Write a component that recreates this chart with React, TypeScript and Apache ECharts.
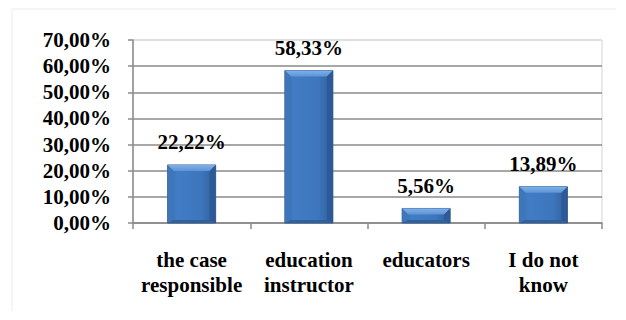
import React, { useEffect, useRef } from "react";
import * as echarts from "echarts";

const categories = ["the case\nresponsible", "education\ninstructor", "educators", "I do not\nknow"];
const values = [22.22, 58.33, 5.56, 13.89];
const yTicks = [0, 10, 20, 30, 40, 50, 60, 70];

const FONT = "'Liberation Serif', 'Times New Roman', Times, serif";

export default function App() {
  const ref = useRef<HTMLDivElement>(null);
  useEffect(() => {
    const chart = echarts.init(ref.current!, null, { renderer: "svg" });
    const fmt = (v: number) => v.toFixed(2).replace(".", ",") + "%";
    const option: any = {
      animation: false,
      backgroundColor: "#ffffff",
      textStyle: { fontFamily: FONT },
      graphic: [
        { type: "line", shape: { x1: 12, y1: 9, x2: 616, y2: 9 }, style: { stroke: "#ececec", lineWidth: 1 } },
        { type: "line", shape: { x1: 12, y1: 9, x2: 12, y2: 311 }, style: { stroke: "#ececec", lineWidth: 1 } },
      ],
      grid: {
        left: 133,
        right: 24,
        top: 40,
        bottom: 97,
        show: true,
        borderColor: "#d4d4d4",
        borderWidth: 1,
        backgroundColor: "transparent",
      },
      xAxis: {
        type: "category",
        data: categories,
        boundaryGap: true,
        axisLine: { show: true, lineStyle: { color: "#8a8a8a", width: 1.5 } },
        axisTick: { show: true, length: 6, lineStyle: { color: "#8a8a8a", width: 1.5 } },
        axisLabel: {
          margin: 24,
          interval: 0,
          fontFamily: FONT,
          fontWeight: "bold",
          fontSize: 21,
          lineHeight: 25,
          color: "#000",
          align: "center",
        },
      },
      yAxis: {
        type: "value",
        min: yTicks[0],
        max: yTicks[yTicks.length - 1],
        interval: 10,
        axisLine: { show: true, lineStyle: { color: "#8a8a8a", width: 1.5 } },
        axisTick: { show: true, length: 5, lineStyle: { color: "#8a8a8a", width: 1.5 } },
        splitLine: {
          show: true,
          lineStyle: {
            color: ["#8a8a8a", "#8a8a8a", "#8a8a8a", "#8a8a8a", "#8a8a8a", "#8a8a8a", "#8a8a8a", "#dcdcdc"],
            width: 1.5,
          },
        },
        axisLabel: {
          margin: 22,
          fontFamily: FONT,
          fontWeight: "bold",
          fontSize: 21,
          color: "#000",
          formatter: (v: number) => fmt(v),
        },
      },
      series: [
        {
          type: "custom",
          data: values.map((v, i) => [i, v]),
          renderItem: (params: any, api: any) => {
            const xi = api.value(0);
            const v = api.value(1);
            const top = api.coord([xi, v]);
            const base = api.coord([xi, 0]);
            const bw = api.size([1, 0])[0] * 0.41;
            const l = top[0] - bw / 2;
            const r = top[0] + bw / 2;
            const t = top[1];
            const b = base[1];
            const h = b - t;
            const bv = Math.min(6, h / 2.2);
            const bb = Math.min(3, h / 4);
            return {
              type: "group",
              children: [
                {
                  type: "rect",
                  shape: { x: l, y: t, width: bw, height: h },
                  style: {
                    fill: new echarts.graphic.LinearGradient(0, 0, 1, 0, [
                      { offset: 0, color: "#3a70b4" },
                      { offset: 0.2, color: "#417cc4" },
                      { offset: 0.7, color: "#3d76bc" },
                      { offset: 1, color: "#2f5d9a" },
                    ]),
                    stroke: "#2b5488",
                    lineWidth: 0.8,
                  },
                },
                {
                  type: "polygon",
                  shape: { points: [[l, t], [r, t], [r - bv, t + bv], [l + bv, t + bv]] },
                  style: {
                    fill: new echarts.graphic.LinearGradient(0, 0, 0, 1, [
                      { offset: 0, color: "#7fb0ea" },
                      { offset: 1, color: "#5e94d6" },
                    ]),
                  },
                },
                {
                  type: "polygon",
                  shape: { points: [[l, t], [l + bv, t + bv], [l + bv, b - bb], [l, b]] },
                  style: { fill: "#3f76ba" },
                },
                {
                  type: "polygon",
                  shape: { points: [[r, t], [r - bv, t + bv], [r - bv, b - bb], [r, b]] },
                  style: { fill: "#2d5a96" },
                },
                {
                  type: "polygon",
                  shape: { points: [[l, b], [l + bv, b - bb], [r - bv, b - bb], [r, b]] },
                  style: { fill: "#30609e" },
                },
                {
                  type: "text",
                  style: {
                    text: fmt(v),
                    x: top[0],
                    y: t - 12,
                    textAlign: "center",
                    textVerticalAlign: "bottom",
                    fontFamily: FONT,
                    fontWeight: "bold",
                    fontSize: 21,
                    fill: "#000",
                  },
                },
              ],
            };
          },
        },
      ],
    };
    chart.setOption(option);
    return () => chart.dispose();
  }, []);
  return <div ref={ref} style={{ width: 626, height: 320, position: "absolute", left: 0, top: 0 }} />;
}
